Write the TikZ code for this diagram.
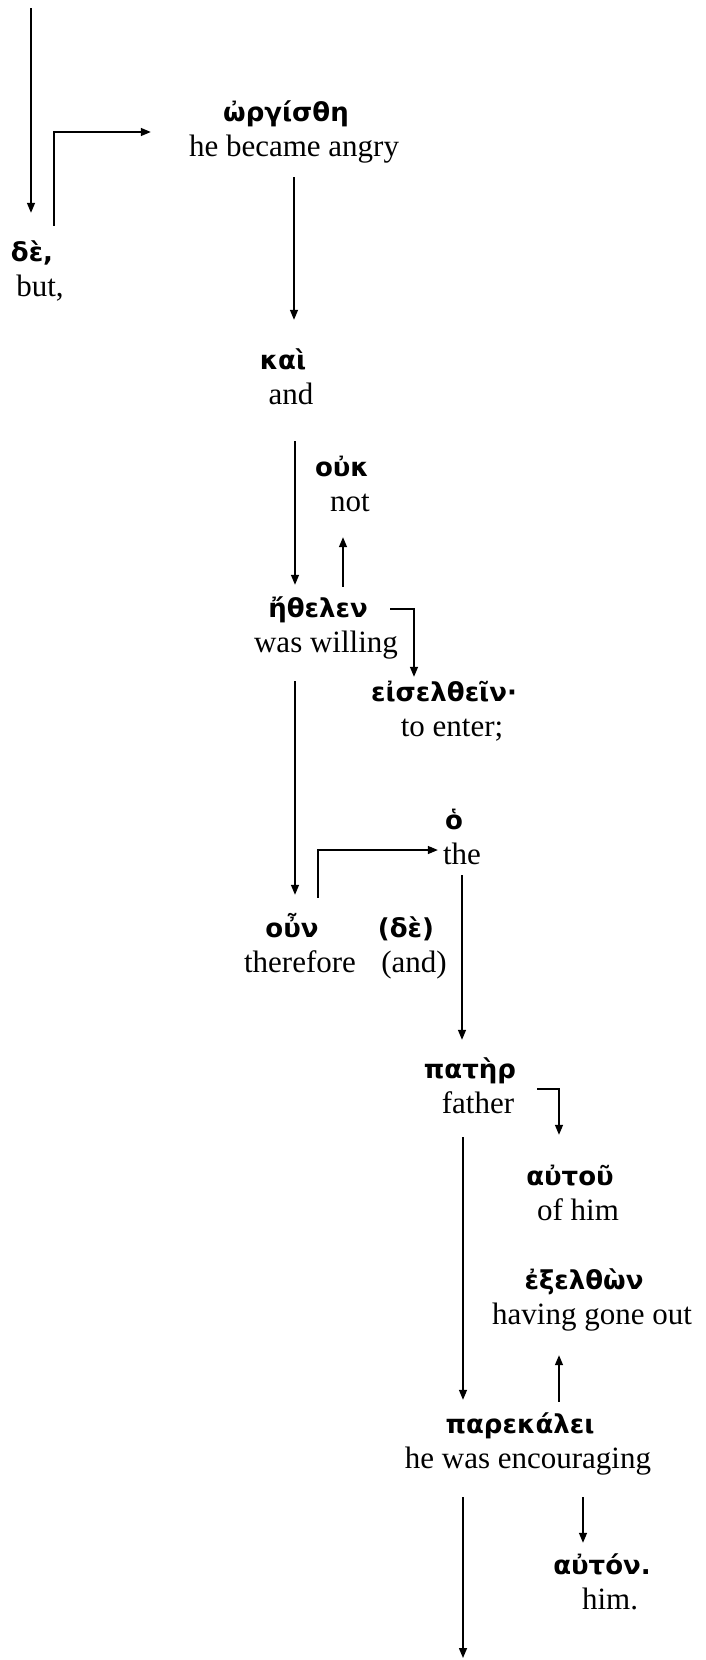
\documentclass[tikz,border=0pt]{standalone}
\usepackage{fontspec}
\setmainfont{Liberation Serif}
\newfontfamily\grk{DejaVu Sans}
\usepackage{tikz}
\usetikzlibrary{arrows.meta, positioning}
\newcommand{\gloss}[2]{{\grk\bfseries\fontsize{26}{35}\selectfont #1}\hspace*{16pt}\strut\\#2\strut}

\begin{document}
\begin{tikzpicture}[x=1pt, y=1pt,
  word/.style={align=center, inner sep=0pt, font=\fontsize{31}{35}\selectfont},
  arr/.style={-{Triangle[length=10pt,width=8pt]}, line width=1.4pt}]
\useasboundingbox (0,0) rectangle (705,-1660);

\coordinate (top) at (31,-8);
\coordinate (bottom) at (463,-1658);

\node [word] (de) at (40,-272) {\gloss{δὲ,}{but,}};
\node [word] (wrg) at (294,-132) {\gloss{ὠργίσθη}{he became angry}};
\node [word] (kai) at (291,-380) {\gloss{καὶ}{and}};
\node [word] (ouk) at (350,-487) {\gloss{οὐκ}{not}};
\node [word] (ethelen) at (326,-628) {\gloss{ἤθελεν}{was willing}};
\node [word] (eisel) at (452,-712) {\gloss{εἰσελθεῖν·}{to enter;}};
\node [word] (ho) at (462,-840) {\gloss{ὁ}{the}};
\node [word] (oun) at (300,-948) {\gloss{οὖν}{therefore}};
\node [word] (de2) at (414,-948) {\gloss{(δὲ)}{(and)}};
\node [word] (pater) at (478,-1089) {\gloss{πατὴρ}{father}};
\node [word] (autou) at (578,-1196) {\gloss{αὐτοῦ}{of him}};
\node [word] (exel) at (592,-1300) {\gloss{ἐξελθὼν}{having gone out}};
\node [word] (parek) at (528,-1444) {\gloss{παρεκάλει}{he was encouraging}};
\node [word] (auton) at (610,-1585) {\gloss{αὐτόν.}{him.}};

\draw[arr, shorten >=24pt] (top) -- (top |- de.north);
\draw[arr, shorten >=38pt] ([xshift=14pt,yshift=11pt]de.north) |- (wrg.west);
\draw[arr, shorten <=10pt, shorten >=25pt] (wrg.south) -- (wrg.south |- kai.north);
\draw[arr, shorten <=26pt, shorten >=8pt] ([xshift=4pt]kai.south) -- ([xshift=4pt]kai.south |- ethelen.north);
\draw[arr, shorten <=6pt, shorten >=15pt] ([xshift=17pt]ethelen.north) -- ([xshift=17pt]ethelen.north |- ouk.south);
\draw[arr] ([xshift=-8pt,yshift=19pt]ethelen.east) -| ([xshift=-38pt]eisel.north);
\draw[arr, shorten <=18pt, shorten >=18pt] ([xshift=-5pt]oun.north |- ethelen.south) -- ([xshift=-5pt]oun.north);
\draw[arr] ([xshift=18pt,yshift=15pt]oun.north) |- ([xshift=-5pt,yshift=-10pt]ho.west);
\draw[arr, shorten >=14pt] (ho.south) -- (ho.south |- pater.north);
\draw[arr, shorten >=26pt] ([xshift=5pt]pater.east) -| ([xshift=-19pt]autou.north);
\draw[arr, shorten <=13pt, shorten >=9pt] ([xshift=-15pt]pater.south) -- ([xshift=-15pt]pater.south |- parek.north);
\draw[arr, shorten <=7pt, shorten >=20pt] ([xshift=31pt]parek.north) -- ([xshift=31pt]parek.north |- exel.south);
\draw[arr, shorten <=18pt, shorten >=7pt] ([xshift=55pt]parek.south) -- ([xshift=55pt]parek.south |- auton.north);
\draw[arr, shorten <=18pt] (bottom |- parek.south) -- (bottom);
\end{tikzpicture}
\end{document}
